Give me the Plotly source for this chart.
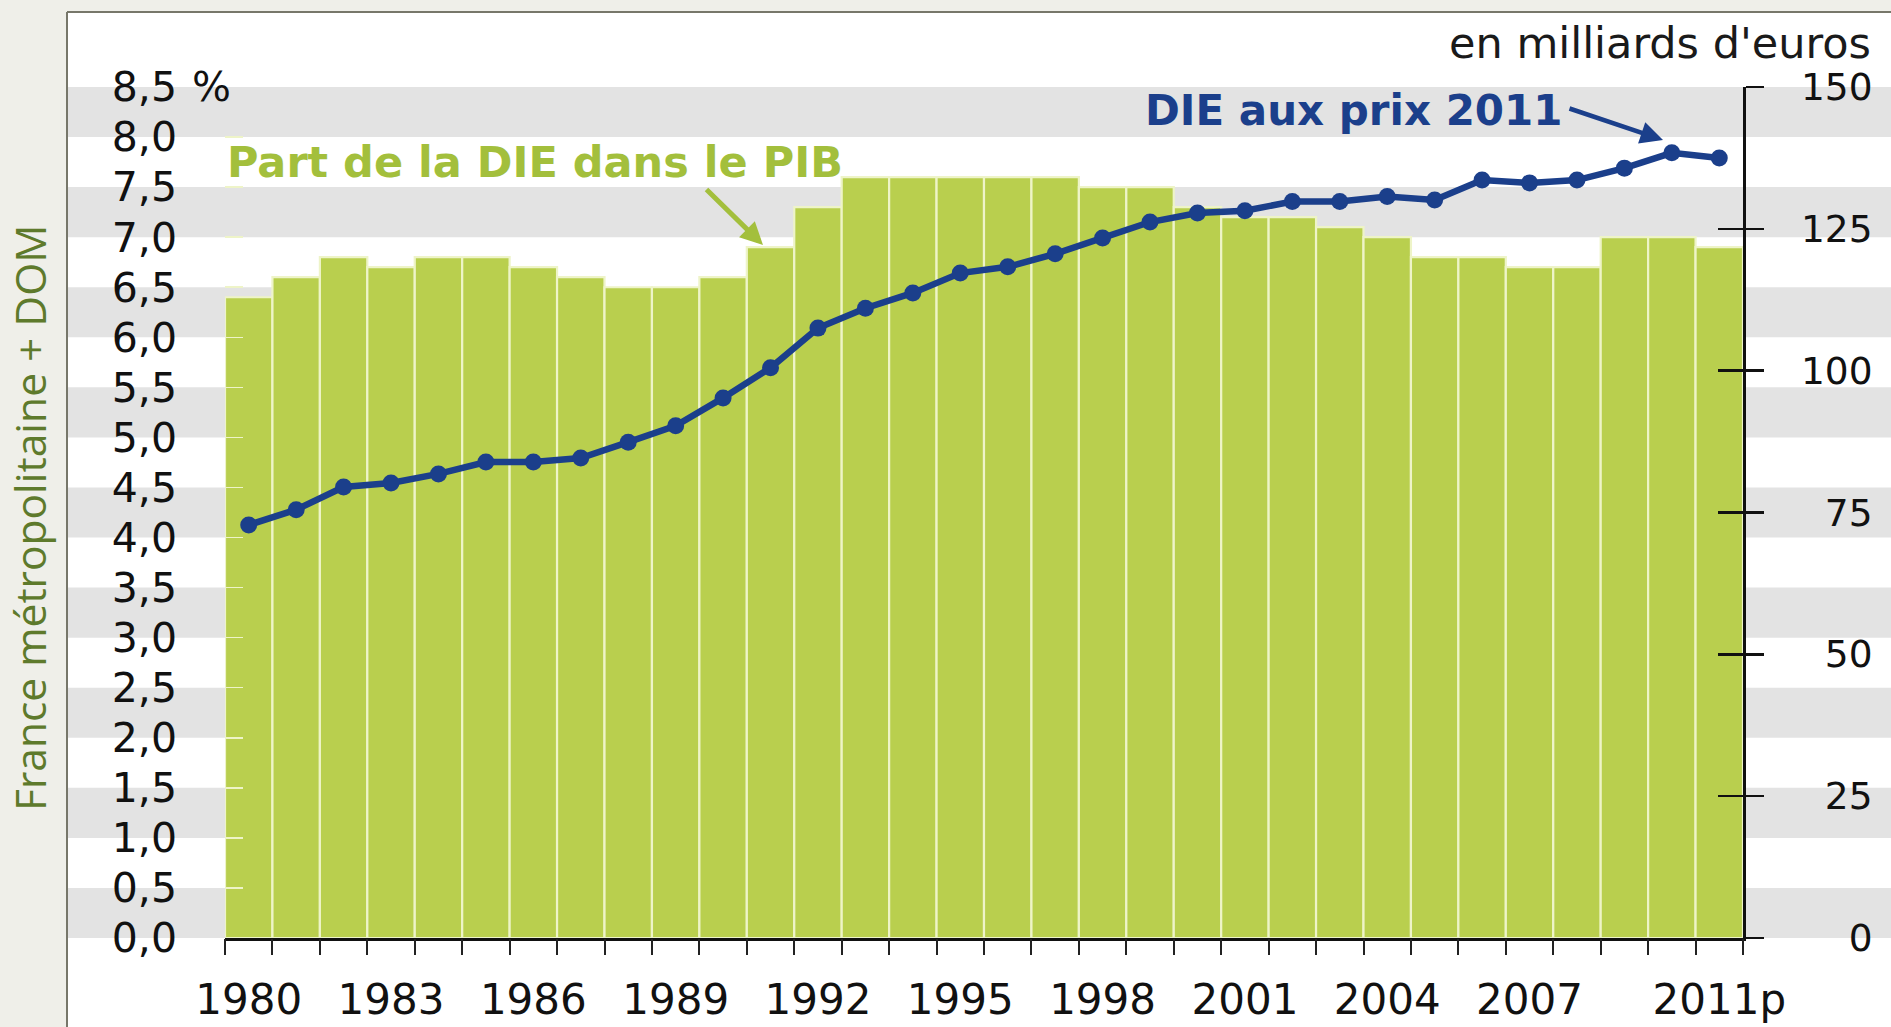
import plotly.graph_objects as go

# ---------------- data ----------------
years = list(range(1980, 2012))
part_die_pib = [6.4, 6.6, 6.8, 6.7, 6.8, 6.8, 6.7, 6.6, 6.5, 6.5,
                6.6, 6.9, 7.3, 7.6, 7.6, 7.6, 7.6, 7.6, 7.5, 7.5,
                7.3, 7.2, 7.2, 7.1, 7.0, 6.8, 6.8, 6.7, 6.7, 7.0,
                7.0, 6.9]
die_prix_2011 = [72.8, 75.5, 79.5, 80.2, 81.8, 83.9, 83.9, 84.6, 87.4, 90.3,
                 95.2, 100.5, 107.5, 111.0, 113.7, 117.2, 118.3, 120.6, 123.4, 126.2,
                 127.8, 128.2, 129.8, 129.8, 130.7, 130.1, 133.6, 133.1, 133.6, 135.7,
                 138.4, 137.5]
x_label_years = [1980, 1983, 1986, 1989, 1992, 1995, 1998, 2001, 2004, 2007, 2011]
x_labels = ["1980", "1983", "1986", "1989", "1992", "1995", "1998", "2001", "2004", "2007", "2011p"]
left_ticks = [0, 0.5, 1, 1.5, 2, 2.5, 3, 3.5, 4, 4.5, 5, 5.5, 6, 6.5, 7, 7.5, 8, 8.5]
left_labels = ["0,0", "0,5", "1,0", "1,5", "2,0", "2,5", "3,0", "3,5", "4,0", "4,5",
               "5,0", "5,5", "6,0", "6,5", "7,0", "7,5", "8,0", "8,5"]
left_unit = "%"
right_ticks = [0, 25, 50, 75, 100, 125, 150]
right_labels = ["0", "25", "50", "75", "100", "125", "150"]

# ---------------- layout helpers ----------------
W, H = 1891, 1027
def px(x):
    return x / W
def py(y):
    return 1 - y / H

GREEN_BAR = "#b9cf4e"
GREEN_TXT = "#a3bf3c"
BLUE = "#1b3f8b"
BAND = "#e3e3e3"
FONT = "DejaVu Sans"

FIG_SP = "\u2007"
right_text = [t.rjust(3, FIG_SP) for t in right_labels]

boundaries = [y - 0.5 for y in years] + [years[-1] + 0.5]

fig = go.Figure()
fig.add_trace(go.Bar(
    x=years, y=part_die_pib, width=1,
    marker=dict(color=GREEN_BAR, line=dict(color="#eef4c8", width=2.2)),
    showlegend=False, hoverinfo="skip"))
fig.add_trace(go.Scatter(
    x=years, y=die_prix_2011, yaxis="y2", mode="lines+markers",
    line=dict(color=BLUE, width=6.5), marker=dict(size=17, color=BLUE),
    showlegend=False, hoverinfo="skip"))

shapes = []
# white panel
shapes.append(dict(type="rect", xref="paper", yref="paper", x0=px(67), x1=1, y0=0, y1=py(12),
                   fillcolor="white", line=dict(width=0), layer="below"))
# alternating bands
for k in range(0, 17, 2):
    v = left_ticks[k]
    shapes.append(dict(type="rect", xref="paper", yref="y", x0=px(67), x1=1,
                       y0=v, y1=v + 0.5, fillcolor=BAND, line=dict(width=0), layer="below"))
# frame
shapes.append(dict(type="line", xref="paper", yref="paper", x0=px(67), x1=1, y0=py(12), y1=py(12),
                   line=dict(color="#77776a", width=2)))
shapes.append(dict(type="line", xref="paper", yref="paper", x0=px(67), x1=px(67), y0=0, y1=py(12),
                   line=dict(color="#77776a", width=2)))

annotations = [
    dict(text=left_unit, xref="paper", yref="y", x=px(190), y=left_ticks[-1],
         xanchor="left", yanchor="middle", showarrow=False,
         font=dict(family=FONT, size=41, color="#111111")),
    dict(text="<b>Part de la DIE dans le PIB</b>", xref="paper", yref="paper",
         x=px(225), y=py(162), xanchor="left", yanchor="middle", showarrow=False,
         font=dict(family=FONT, size=43, color=GREEN_TXT)),
    dict(text="", xref="paper", yref="paper", x=px(763), y=py(245), ax=-58, ay=-57,
         showarrow=True, arrowhead=2, arrowsize=0.9, arrowwidth=5, arrowcolor=GREEN_TXT),
    dict(text="<b>DIE aux prix 2011</b>", xref="paper", yref="paper",
         x=px(1143), y=py(110), xanchor="left", yanchor="middle", showarrow=False,
         font=dict(family=FONT, size=42, color=BLUE)),
    dict(text="", xref="paper", yref="paper", x=px(1663), y=py(140), ax=-95, ay=-32,
         showarrow=True, arrowhead=2, arrowsize=1, arrowwidth=4.5, arrowcolor=BLUE),
    dict(text="en milliards d'euros", xref="paper", yref="paper",
         x=px(1873), y=py(43), xanchor="right", yanchor="middle", showarrow=False,
         font=dict(family=FONT, size=43, color="#1a1a1a")),
    dict(text="France métropolitaine + DOM", xref="paper", yref="paper",
         x=px(29), y=py(518), xanchor="center", yanchor="middle", textangle=-90,
         showarrow=False, font=dict(family="Open Sans", size=42.5, color="#5e7a2c")),
]

fig.update_layout(
    width=W, height=H,
    margin=dict(l=0, r=0, t=0, b=0, autoexpand=False),
    paper_bgcolor="#efefe9", plot_bgcolor="rgba(0,0,0,0)",
    bargap=0, font=dict(family=FONT, color="#111111"),
    shapes=shapes, annotations=annotations,
    xaxis=dict(domain=[px(225), px(1743)], range=[years[0] - 0.5, years[-1] + 0.5],
               tickmode="array", tickvals=x_label_years, ticktext=x_labels,
               ticks="", showgrid=False, zeroline=False,
               showline=True, linecolor="#111111", linewidth=2.5,
               tickfont=dict(size=42, color="#111111"), ticklabelstandoff=23,
               anchor="y"),
    xaxis2=dict(overlaying="x", matches="x", anchor="y", side="bottom",
                tickmode="array", tickvals=boundaries, ticks="outside", ticklen=16,
                tickwidth=2, tickcolor="#222222", showticklabels=False,
                showgrid=False, zeroline=False, showline=False),
    yaxis=dict(domain=[py(938), py(87)], range=[0, 8.5], tickmode="array",
               tickvals=left_ticks, ticktext=left_labels, ticks="inside", ticklen=18,
               tickwidth=1.5, tickcolor="#eef4c8", showgrid=False, zeroline=False,
               showline=False, tickfont=dict(size=41, color="#111111"),
               ticklabelstandoff=47, anchor="x"),
    yaxis2=dict(overlaying="y", side="right", anchor="x", range=[0, 150],
                tickmode="array", tickvals=right_ticks, ticktext=right_text,
                ticks="outside", ticklen=18, tickwidth=2.5, tickcolor="#111111",
                showline=True, linecolor="#111111", linewidth=2.5,
                showgrid=False, zeroline=False,
                tickfont=dict(size=37.5, color="#111111"), ticklabelstandoff=30),
    yaxis3=dict(overlaying="y", side="right", anchor="x", range=[0, 150],
                tickmode="array", tickvals=right_ticks, ticks="inside", ticklen=25,
                tickwidth=2.5, tickcolor="#111111", showticklabels=False,
                showline=False, showgrid=False, zeroline=False),
)
# attach an invisible trace to the extra axes so they render
fig.add_trace(go.Scatter(x=[years[0]], y=[right_ticks[0]], xaxis="x2", yaxis="y3",
                         mode="markers", marker=dict(opacity=0), showlegend=False, hoverinfo="skip"))

fig.write_html("out.html",
               config={"displayModeBar": False, "staticPlot": True},
               post_script="document.body.style.margin='0px';"
                           "document.body.style.background='#efefe9';"
                           "document.body.style.overflow='hidden';")
